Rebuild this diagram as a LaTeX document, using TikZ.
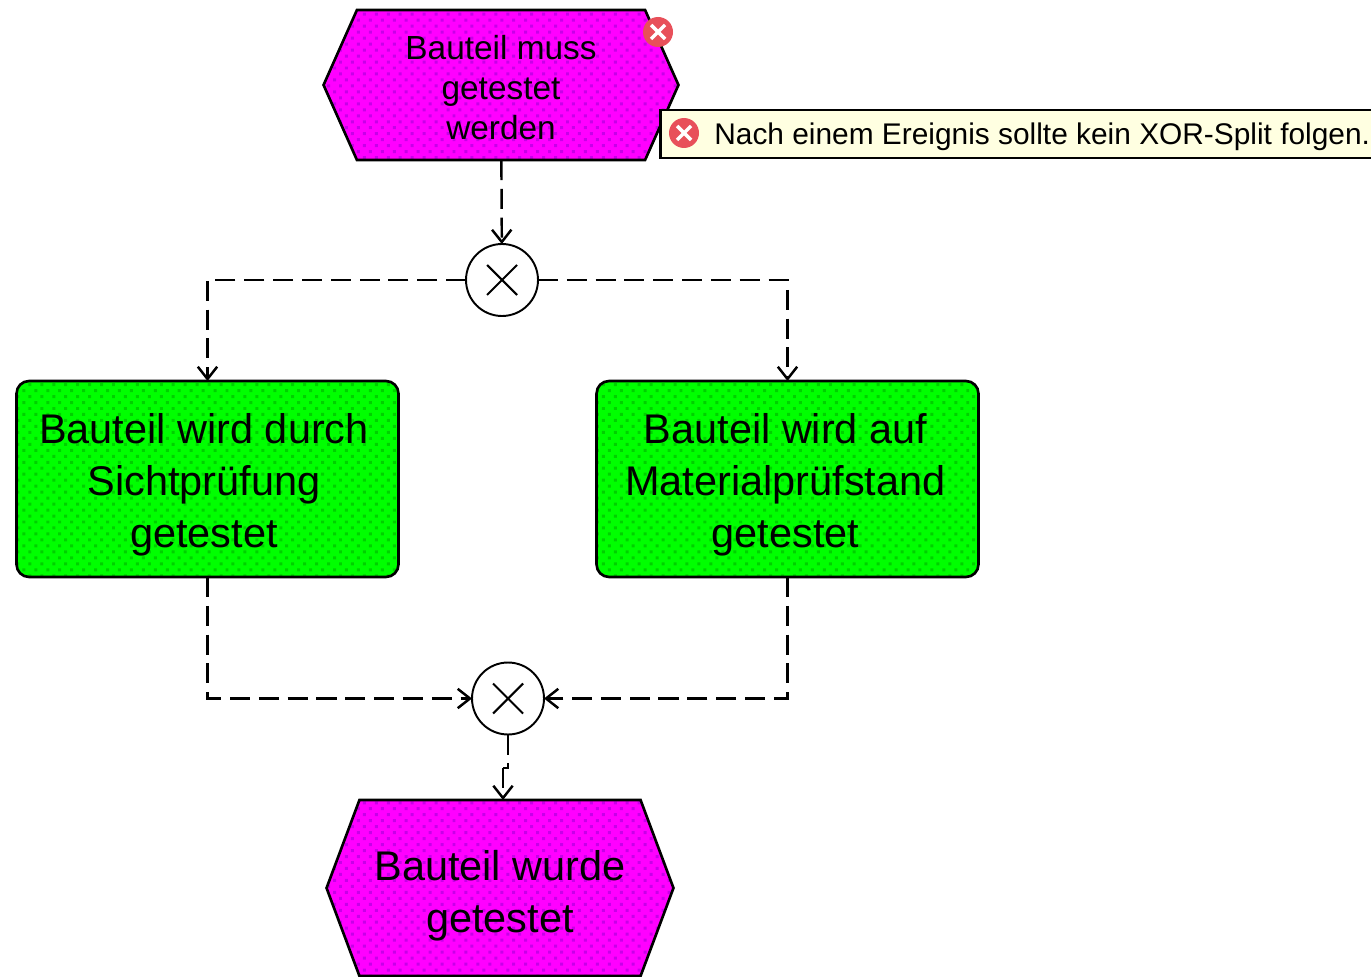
\documentclass[tikz,border=0pt]{standalone}
\usepackage{fontspec}
\setmainfont{Liberation Sans}
\usetikzlibrary{shapes.symbols,arrows.meta,patterns}
\definecolor{evcolor}{HTML}{FF00FF}
\definecolor{evdot}{HTML}{C800E8}
\definecolor{fncolor}{HTML}{00FF00}
\definecolor{fndot}{HTML}{00D000}
\definecolor{tipcolor}{HTML}{FFFFE1}
\definecolor{errcolor}{HTML}{E8505A}
\newcommand{\bigtext}{\fontsize{23.6}{29.6}\selectfont}
\newcommand{\smalltext}{\fontsize{19}{22.8}\selectfont}
\pgfdeclarepatternformonly{ditherdots}{\pgfqpoint{-1.2pt}{-1.2pt}}{\pgfqpoint{5.6pt}{5.6pt}}{\pgfqpoint{6.8pt}{6.8pt}}{
	\pgfpathrectangle{\pgfqpoint{-.85pt}{-.85pt}}{\pgfqpoint{1.7pt}{1.7pt}}
	\pgfpathrectangle{\pgfqpoint{2.55pt}{2.55pt}}{\pgfqpoint{1.7pt}{1.7pt}}
	\pgfusepath{fill}}
\begin{document}
\begin{tikzpicture}[x=.02cm,y=-.02cm,
	event/.style={signal,signal to=east and west,signal pointer angle=132,draw,preaction={fill=evcolor},pattern=ditherdots,pattern color=evdot,line width=1.5pt,outer sep=0pt,inner sep=0pt},
	function/.style={rectangle,rounded corners=.25cm,draw,preaction={fill=fncolor},pattern=ditherdots,pattern color=fndot,line width=1.5pt,minimum width=7.64cm,minimum height=3.92cm,outer sep=0pt},
	bigcap/.style={align=center,font=\bigtext,inner sep=0pt},
	smallcap/.style={align=center,font=\smalltext,inner sep=0pt},
	gateway/.style={circle,draw,fill=white,line width=1.1pt,minimum size=1.44cm,inner sep=0pt,outer sep=0pt,path picture={
		\draw[line width=1.2pt] (path picture bounding box.center) +(-15,-15) -- +(15,15) (path picture bounding box.center) +(-15,15) -- +(15,-15);}},
	error/.style={circle,fill=errcolor,minimum size=.6cm,inner sep=0pt,path picture={
		\draw[white,line width=2pt] (path picture bounding box.center) +(-7,-7) -- +(7,7) (path picture bounding box.center) +(-7,7) -- +(7,-7);}},
	plain/.style={line width=1.4pt,dash pattern=on 11.4pt off 5pt},
	conn/.style={plain,-{Straight Barb[length=7pt,width=11pt]}}]
	\clip (0,0) rectangle (1371,976);

	\node (ev1) [event,minimum width=7.1cm,minimum height=3cm,
		label={[smallcap,yshift=-.05cm]center:{Bauteil muss\\getestet\\werden}}] at (501,85) {};
	\node (ev2) [event,signal pointer angle=139,minimum width=6.94cm,minimum height=3.52cm,
		label={[bigcap,yshift=-.16cm]center:{Bauteil wurde\\getestet}}] at (500,888) {};
	\node (fn1) [function,
		label={[bigcap,xshift=-.07cm,yshift=-.12cm]center:{Bauteil wird durch\\Sichtprüfung\\getestet}}] at (207.5,479) {};
	\node (fn2) [function,
		label={[bigcap,xshift=-.04cm,yshift=-.12cm]center:{Bauteil wird auf\\Materialprüfstand\\getestet}}] at (787.5,479) {};
	\node (xor1) [gateway] at (502,280) {};
	\node (xor2) [gateway] at (508,698.5) {};
	\coordinate (jog) at (503,768);

	\draw[conn] (ev1) -- (xor1);
	\draw[conn] (xor1) -| (fn1);
	\draw[conn] (xor1) -| (fn2);
	\draw[conn] (fn1) |- (xor2);
	\draw[conn] (fn2) |- (xor2);
	\draw[plain] (xor2) |- (jog);
	\draw[conn] (jog) -- (jog |- ev2.north);

	\node (icon1) [error] at (658,32) {};
	\node (tip) [rectangle,draw,fill=tipcolor,line width=1.6pt,anchor=west,minimum width=16cm,minimum height=.96cm] at (659,134) {};
	\node (icon2) [error] at (684,133) {};
	\node (msg) [anchor=west,inner sep=0pt,font=\fontsize{17}{20}\selectfont] at (714,137) {Nach einem Ereignis sollte kein XOR-Split folgen.};
\end{tikzpicture}
\end{document}
